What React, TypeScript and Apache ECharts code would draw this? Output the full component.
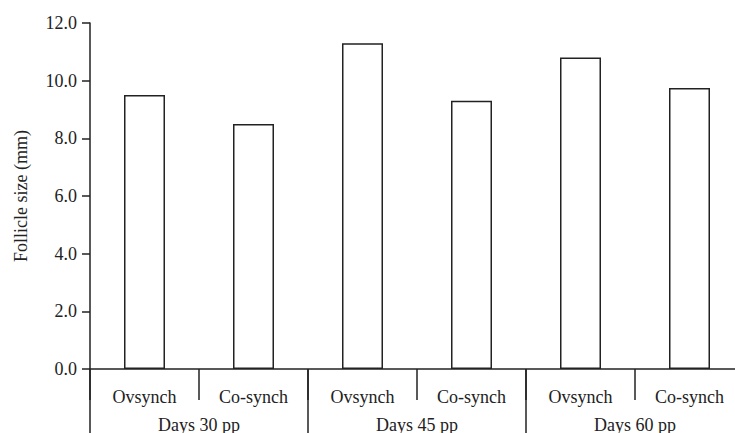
import React, { useEffect, useRef } from "react";
import * as echarts from "echarts";

const protocols = ["Ovsynch", "Co-synch", "Ovsynch", "Co-synch", "Ovsynch", "Co-synch"];
const periods = ["Days 30 pp", "Days 45 pp", "Days 60 pp"];
const follicleSize = [9.5, 8.5, 11.3, 9.3, 10.8, 9.75];
const yTicks = { min: 0, max: 12, interval: 2 };

const FONT = "Liberation Serif";
const INK = "#222";

export default function App() {
  const ref = useRef<HTMLDivElement>(null);

  useEffect(() => {
    if (!ref.current) return;
    const chart = echarts.init(ref.current, undefined, { renderer: "svg" });
    chart.setOption({
      animation: false,
      backgroundColor: "#fff",
      // the plot runs past the right edge, so the last group is cut off
      grid: { left: 90, top: 23, width: 654, height: 346, outerBoundsMode: "none" },
      xAxis: [
        {
          type: "category",
          data: protocols,
          position: "bottom",
          axisLine: { show: true, lineStyle: { color: INK, width: 1.5 } },
          axisTick: { show: true, interval: 0, length: 31, lineStyle: { color: INK, width: 1.5 } },
          axisLabel: { interval: 0, margin: 19, fontFamily: FONT, fontSize: 18, color: INK },
        },
        {
          type: "category",
          data: periods,
          position: "bottom",
          axisLine: { show: false },
          axisTick: { show: true, interval: 0, length: 80, lineStyle: { color: INK, width: 1.5 } },
          axisLabel: { interval: 0, margin: 47, fontFamily: FONT, fontSize: 18, color: INK },
        },
      ],
      yAxis: {
        type: "value",
        min: yTicks.min,
        max: yTicks.max,
        interval: yTicks.interval,
        name: "Follicle size (mm)",
        nameLocation: "middle",
        nameGap: 60,
        nameTextStyle: { fontFamily: FONT, fontSize: 18, color: INK },
        axisLine: { show: true, lineStyle: { color: INK, width: 1.5 } },
        axisTick: { show: true, inside: false, length: 8, lineStyle: { color: INK, width: 1.5 } },
        axisLabel: {
          margin: 13,
          fontFamily: FONT,
          fontSize: 18,
          color: INK,
          formatter: (v: number) => v.toFixed(1),
        },
        splitLine: { show: false },
      },
      series: [
        {
          type: "bar",
          xAxisIndex: 0,
          data: follicleSize,
          barWidth: 41,
          itemStyle: { color: "#fff", borderColor: INK, borderWidth: 1.5 },
        },
      ],
    });
    return () => chart.dispose();
  }, []);

  return (
    <div
      ref={ref}
      style={{ position: "absolute", left: 0, top: 0, width: 735, height: 433 }}
    />
  );
}
